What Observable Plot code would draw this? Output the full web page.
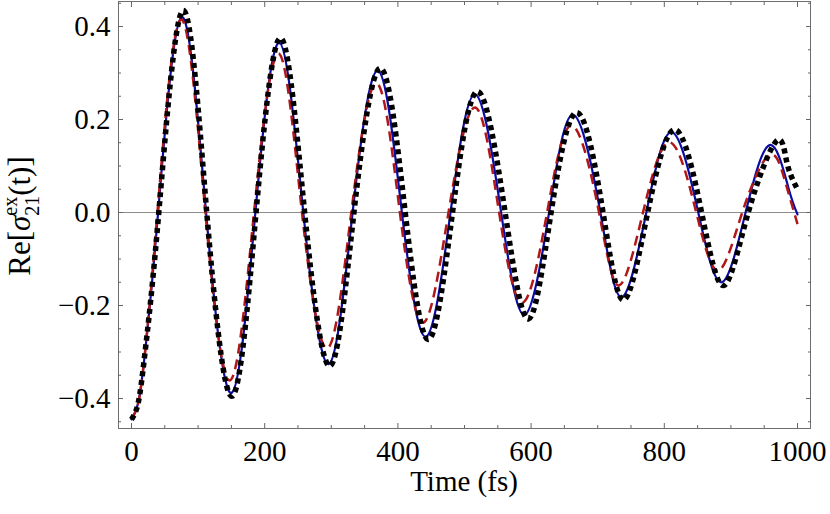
<!DOCTYPE html>
<html>
<head>
<meta charset="utf-8">
<script src="https://cdn.jsdelivr.net/npm/d3@7"></script>
<script src="https://cdn.jsdelivr.net/npm/@observablehq/plot@0.6"></script>
<style>
  html, body { margin: 0; padding: 0; background: #ffffff; }
</style>
</head>
<body>
<div id="chart"></div>
<script>
// ---- data (time in fs, value) ----
const timeBlue  = [0, 10, 20, 40, 75, 112, 150, 186, 222, 258, 296, 332, 370, 406, 442, 479, 516, 555, 590, 627, 663, 704, 736, 773, 811, 851, 886, 922, 958, 986, 1000];
const valueBlue = [-0.445, -0.41, -0.305, 0, 0.42, 0, -0.388, 0, 0.365, 0, -0.326, 0, 0.305, 0, -0.267, 0, 0.254, 0, -0.22, 0, 0.21, 0, -0.182, 0, 0.173, 0, -0.15, 0, 0.145, 0.055, -0.004];

const timeRed  = [0, 10, 20, 39, 74, 111, 148, 184, 221, 256, 294, 330, 368, 403, 438, 476, 516, 552, 587, 624, 661, 702, 732, 768, 808, 848, 881, 917, 957, 981, 1000];
const valueRed = [-0.445, -0.41, -0.305, 0, 0.415, 0, -0.361, 0, 0.342, 0, -0.292, 0, 0.278, 0, -0.237, 0, 0.226, 0, -0.194, 0, 0.187, 0, -0.157, 0, 0.151, 0, -0.125, 0, 0.123, 0.069, -0.025];

const timeBlack  = [0, 10, 20, 41, 77, 113, 151, 187, 224, 260, 298, 334, 374, 411, 446, 482, 520, 561, 596, 630, 669, 708, 739, 775, 816, 856, 889, 926, 968, 984, 1000];
const valueBlack = [-0.445, -0.41, -0.305, 0, 0.434, 0, -0.395, 0, 0.375, 0, -0.33, 0, 0.31, 0, -0.273, 0, 0.26, 0, -0.229, 0, 0.215, 0, -0.188, 0, 0.178, 0, -0.157, 0, 0.153, 0.108, 0.05];

// ---- ticks ----
const xMajorTicks = [0, 200, 400, 600, 800, 1000];
const xMinorTicks = [50, 100, 150, 250, 300, 350, 450, 500, 550, 650, 700, 750, 850, 900, 950];
const yMajorTicks = [-0.4, -0.2, 0.0, 0.2, 0.4];
const yMinorTicks = [-0.45, -0.35, -0.3, -0.25, -0.15, -0.1, -0.05, 0.05, 0.1, 0.15, 0.25, 0.3, 0.35, 0.45];
const yTickLabels = ["\u22120.4", "\u22120.2", "0.0", "0.2", "0.4"];
const xLabel = "Time (fs)";

const rows = (t, v) => t.map((x, i) => ({t: x, v: v[i]}));
const blueRows = rows(timeBlue, valueBlue);
const redRows = rows(timeRed, valueRed);
const blackRows = rows(timeBlack, valueBlack);

const tickColor = "#666666";
const font = "'Liberation Serif', 'Times New Roman', serif";

const svg = Plot.plot({
  width: 830,
  height: 514,
  marginLeft: 118,
  marginRight: 20,
  marginTop: 1,
  marginBottom: 86,
  x: {domain: [-19.5, 1019.5]},
  y: {domain: [-0.4645, 0.4538]},
  style: {fontFamily: font, fontSize: "29px", background: "#ffffff", color: "#000"},
  marks: [
    Plot.ruleY([0], {stroke: "#8c8c8c", strokeWidth: 1}),
    Plot.line(blueRows, {x: "t", y: "v", curve: "natural", stroke: "#0b0ba6", strokeWidth: 2.2}),
    Plot.line(redRows, {x: "t", y: "v", curve: "natural", stroke: "#b01818", strokeWidth: 2.5, strokeDasharray: "10,6", strokeLinecap: "butt"}),
    Plot.line(blackRows, {x: "t", y: "v", curve: "natural", stroke: "#000000", strokeWidth: 5.5, strokeDasharray: "5,4", strokeLinecap: "butt"}),
    Plot.frame({stroke: "#6e6e6e", strokeWidth: 1}),
    // inward ticks on all four sides
    Plot.axisX(xMajorTicks, {anchor: "bottom", tickSize: -5, fill: "none", label: null, stroke: tickColor}),
    Plot.axisX(xMinorTicks, {anchor: "bottom", tickSize: -3, fill: "none", label: null, stroke: tickColor}),
    Plot.axisX(xMajorTicks, {anchor: "top", tickSize: -5, fill: "none", label: null, stroke: tickColor}),
    Plot.axisX(xMinorTicks, {anchor: "top", tickSize: -3, fill: "none", label: null, stroke: tickColor}),
    Plot.axisY(yMajorTicks, {anchor: "left", tickSize: -5, fill: "none", label: null, stroke: tickColor}),
    Plot.axisY(yMinorTicks, {anchor: "left", tickSize: -3, fill: "none", label: null, stroke: tickColor}),
    Plot.axisY(yMajorTicks, {anchor: "right", tickSize: -5, fill: "none", label: null, stroke: tickColor}),
    Plot.axisY(yMinorTicks, {anchor: "right", tickSize: -3, fill: "none", label: null, stroke: tickColor}),
    // tick labels
    Plot.axisX(xMajorTicks, {anchor: "bottom", tickSize: 0, tickPadding: 12, label: null, fill: "#000", fontSize: 29, tickFormat: d => String(d)}),
    Plot.axisY(yMajorTicks, {anchor: "left", tickSize: 0, tickPadding: 8, label: null, fill: "#000", fontSize: 29, tickFormat: d => yTickLabels[yMajorTicks.indexOf(d)]})
  ]
});

const s = d3.select(svg);
s.append("text")
  .attr("x", 464).attr("y", 491)
  .attr("text-anchor", "middle")
  .attr("font-family", font).attr("font-size", 29).attr("fill", "#000")
  .text(xLabel);

const yl = s.append("text")
  .attr("transform", "translate(30,216) rotate(-90)")
  .attr("text-anchor", "middle")
  .attr("font-family", font).attr("font-size", 31).attr("fill", "#000");
yl.append("tspan").text("Re[");
yl.append("tspan").attr("font-style", "italic").text("\u03C3");
yl.append("tspan").attr("font-size", 20).attr("dy", -13).text("ex");
yl.append("tspan").attr("font-size", 20).attr("dx", -19).attr("dy", 22).text("21");
yl.append("tspan").attr("dy", -9).text("(t)]");

document.getElementById("chart").appendChild(svg);
</script>
</body>
</html>
